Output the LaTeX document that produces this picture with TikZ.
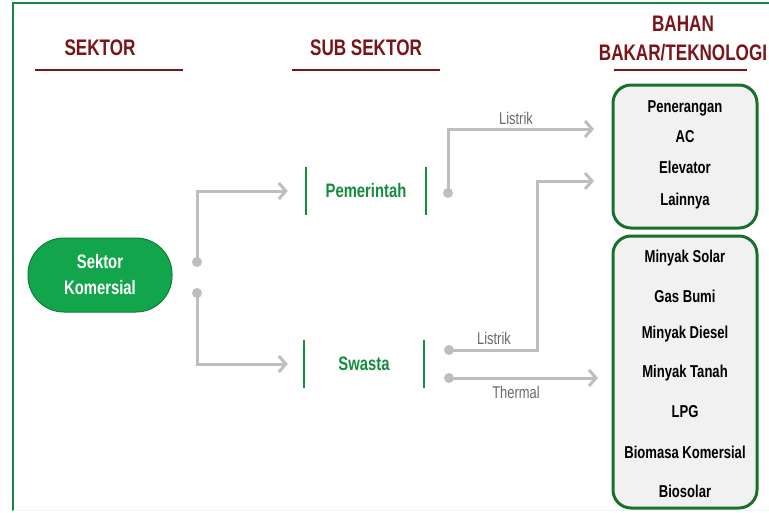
\documentclass[tikz,border=0pt]{standalone}
\usepackage{fontspec}
\setmainfont[FakeStretch=0.84]{Liberation Sans}
\newfontfamily\condfont[FakeStretch=0.76]{Liberation Sans}
\usetikzlibrary{arrows.meta}
\definecolor{headred}{HTML}{7A1419}
\definecolor{subgreen}{HTML}{148C3E}
\definecolor{pillgreen}{HTML}{12A54B}
\definecolor{pilledge}{HTML}{0E8039}
\definecolor{boxedge}{HTML}{1C6F2B}
\definecolor{boxfill}{HTML}{F1F1F1}
\definecolor{linegray}{HTML}{BEBEBE}
\definecolor{labelgray}{HTML}{6A6A6A}
\definecolor{framegreen}{HTML}{14893E}
\begin{document}
\begin{tikzpicture}[x=1pt,y=-1pt,
  head/.style={text=headred,font=\condfont\bfseries\fontsize{22.5}{29}\selectfont,align=center,inner sep=0},
  uline/.style={headred,line width=2pt},
  pill/.style={fill=pillgreen,draw=pilledge,line width=1pt,rounded corners=36pt,
    minimum width=144pt,minimum height=74pt,text=white,align=center,
    font=\condfont\bfseries\fontsize{19.5}{26}\selectfont},
  subnode/.style={text=subgreen,font=\condfont\bfseries\fontsize{19.5}{22}\selectfont,
    minimum width=120pt,minimum height=48pt,inner sep=0},
  bar/.style={subgreen,line width=2pt},
  dot/.style={circle,fill=linegray,inner sep=0,minimum size=10pt},
  conn/.style={linegray,line width=3pt,
    -{Straight Barb[length=7pt,width=16pt,line width=3pt]}},
  lbl/.style={text=labelgray,font=\condfont\fontsize{17}{18}\selectfont,inner sep=0},
  catbox/.style={draw=boxedge,fill=boxfill,line width=3pt,rounded corners=18pt,
    minimum width=144pt},
  item/.style={font=\condfont\bfseries\fontsize{17.2}{18}\selectfont,inner sep=0}
]
\useasboundingbox (0,0) rectangle (769,512);

% outer frame
\draw[framegreen,line width=1.2pt] (13,511) -- (13,3) -- (769,3);
\draw[cyan!8,line width=1.2pt] (13,510.5) -- (769,510.5);

% column headings
\node[head] (hsek) at (100,48) {SEKTOR};
\node[head] (hsub) at (366,48) {SUB SEKTOR};
\node[head] (hbb) at (683,38) {BAHAN\\BAKAR/TEKNOLOGI};
\draw[uline] (35,70) -- (183,70);
\draw[uline] (292,70) -- (440,70);
\draw[uline] (614,70) -- (747,70);

% sector
\node[pill] (kom) at (100,275) {Sektor\\Komersial};

% sub sectors
\node[subnode] (pem) at (366,191) {Pemerintah};
\node[subnode] (swa) at (364,364) {Swasta};
\foreach \n in {pem,swa}{
  \draw[bar] (\n.north west) -- (\n.south west);
  \draw[bar] (\n.north east) -- (\n.south east);
}

% fuel / technology boxes
\node[catbox,minimum height=143pt] (box1) at (685,156.5) {};
\node[catbox,minimum height=272pt] (box2) at (685,372) {};
\node[item] (i1) at (685,108) {Penerangan};
\node[item] (i2) at (685,137) {AC};
\node[item] (i3) at (685,167) {Elevator};
\node[item] (i4) at (685,201) {Lainnya};
\node[item] (j1) at (685,258) {Minyak Solar};
\node[item] (j2) at (685,296) {Gas Bumi};
\node[item] (j3) at (685,334) {Minyak Diesel};
\node[item] (j4) at (685,373) {Minyak Tanah};
\node[item] (j5) at (685,412) {LPG};
\node[item] (j6) at (685,452) {Biomasa Komersial};
\node[item] (j7) at (685,491) {Biosolar};

% connector ends
\node[dot] (d1) at (197,262) {};
\node[dot] (d2) at (197,293) {};
\node[dot] (d3) at (448,193) {};
\node[dot] (d4) at (449,350) {};
\node[dot] (d5) at (449,378) {};
\coordinate (pin) at ([xshift=-18pt]pem.west);
\coordinate (sin) at ([xshift=-16pt]swa.west);
\coordinate (t1) at (594,129);
\coordinate (t2) at (594,181);
\coordinate (t3) at (598,378);
\coordinate (k1) at (537,181);

\draw[conn] (d1.center) |- (pin);
\draw[conn] (d2.center) |- (sin);
\draw[conn] (d3.center) |- (t1);
\draw[conn] (d4.center) -| (k1) -- (t2);
\draw[conn] (d5.center) -- (t3);

\node[lbl] (l1) at (516,118) {Listrik};
\node[lbl] (l2) at (494,338) {Listrik};
\node[lbl] (l3) at (516,392) {Thermal};
\end{tikzpicture}
\end{document}
